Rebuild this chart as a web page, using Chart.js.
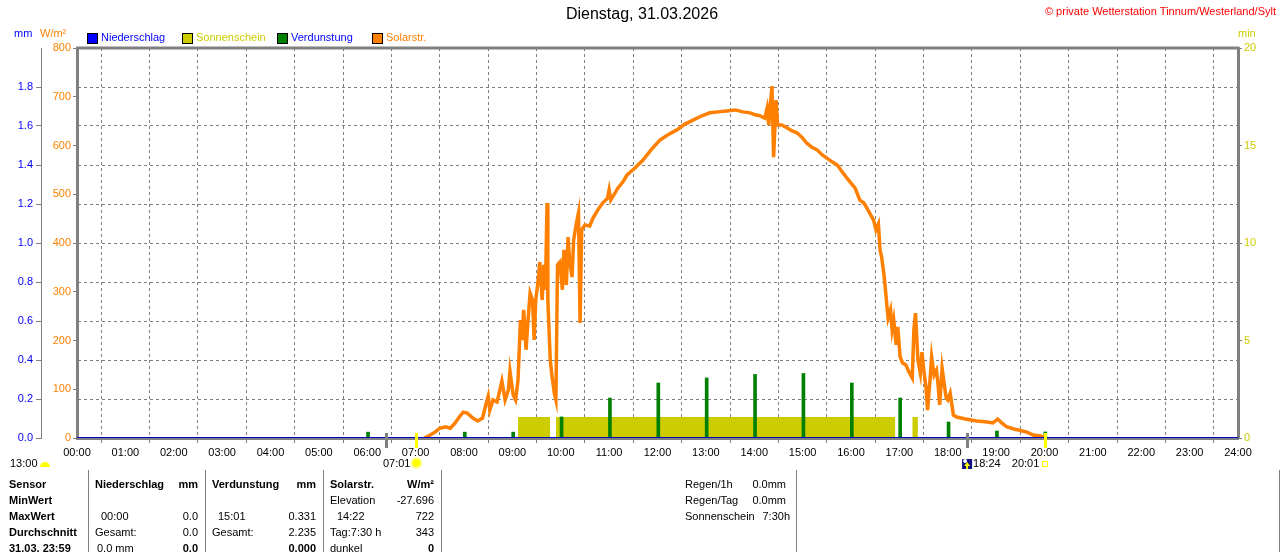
<!DOCTYPE html>
<html lang="de">

<head>
  <meta charset="utf-8">
  <title>Solarstrahlung - Wetterstation Tinnum/Westerland/Sylt</title>
  <style>
    body { margin: 0; background: #fff; }
    canvas { display: block; }
  </style>
</head>

<body>
  <canvas id="chart-solar" width="1280" height="552"></canvas>

  <script type="text/javascript" src="https://cdn.jsdelivr.net/npm/chart.js@4.4.1/dist/chart.umd.min.js"></script>
  <script>
    // ------------------------------------------------- Daten -------------------------------------------------
    var xTickLabels = ['00:00', '01:00', '02:00', '03:00', '04:00', '05:00', '06:00', '07:00', '08:00', '09:00', '10:00', '11:00', '12:00',
      '13:00', '14:00', '15:00', '16:00', '17:00', '18:00', '19:00', '20:00', '21:00', '22:00', '23:00', '24:00'];
    var mmTickLabels = ['0.0', '0.2', '0.4', '0.6', '0.8', '1.0', '1.2', '1.4', '1.6', '1.8', ''];
    var wTickLabels = ['0', '100', '200', '300', '400', '500', '600', '700', '800'];
    var minTickLabels = ['0', '5', '10', '15', '20'];

    // Solarstrahlung W/m²
    var solarTime = ['07:11', '07:18', '07:24', '07:30', '07:37', '07:43', '07:49', '07:55', '07:59', '08:04',
      '08:11', '08:17', '08:23', '08:27', '08:30', '08:32', '08:36', '08:41', '08:43', '08:47',
      '08:51', '08:55', '08:57', '09:01', '09:04', '09:07', '09:10', '09:12', '09:14', '09:17',
      '09:19', '09:22', '09:25', '09:27', '09:29', '09:32', '09:34', '09:37', '09:39', '09:41',
      '09:43', '09:44', '09:47', '09:49', '09:52', '09:54', '09:55', '09:56', '09:59', '10:02',
      '10:04', '10:07', '10:09', '10:11', '10:14', '10:16', '10:19', '10:22', '10:24', '10:26',
      '10:30', '10:36', '10:40', '10:46', '10:52', '10:58', '11:00', '11:02', '11:05', '11:11',
      '11:17', '11:22', '11:32', '11:42', '11:52', '12:03', '12:13', '12:24', '12:34', '12:44',
      '12:55', '13:05', '13:15', '13:26', '13:36', '13:46', '13:55', '14:01', '14:07', '14:13',
      '14:16', '14:18', '14:22', '14:24', '14:26', '14:27', '14:29', '14:34', '14:41', '14:47',
      '14:53', '14:59', '15:05', '15:11', '15:18', '15:24', '15:30', '15:37', '15:43', '15:49',
      '15:55', '16:00', '16:05', '16:11', '16:16', '16:21', '16:28', '16:31', '16:34', '16:36',
      '16:38', '16:41', '16:43', '16:46', '16:49', '16:51', '16:53', '16:56', '16:58', '17:01',
      '17:04', '17:08', '17:12', '17:16', '17:18', '17:20', '17:23', '17:26', '17:28', '17:31',
      '17:33', '17:35', '17:38', '17:40', '17:43', '17:46', '17:48', '17:50', '17:53', '17:55',
      '17:58', '18:00', '18:03', '18:07', '18:11', '18:22', '18:36', '18:49', '18:56', '19:02',
      '19:07', '19:13', '19:23', '19:29', '19:38', '19:46', '19:55', '19:59', '20:01'];
    var solarValue = [0, 6, 12, 20, 23, 20, 31, 45, 53, 51,
      41, 35, 41, 68, 86, 57, 78, 74, 88, 117,
      78, 98, 137, 88, 78, 119, 242, 201, 263, 181,
      232, 297, 283, 201, 283, 324, 361, 283, 355, 304,
      482, 283, 160, 129, 92, 78, 222, 355, 361, 304,
      386, 314, 412, 365, 330, 406, 437, 462, 236, 427,
      437, 435, 451, 468, 482, 492, 509, 488, 496, 513,
      525, 539, 554, 570, 591, 611, 622, 632, 644, 652,
      661, 667, 669, 671, 673, 669, 667, 663, 661, 656,
      677, 642, 722, 576, 652, 693, 642, 642, 636, 630,
      626, 617, 605, 597, 591, 581, 574, 566, 560, 546,
      533, 523, 513, 488, 482, 468, 447, 427, 439, 386,
      371, 334, 299, 246, 263, 222, 242, 191, 228, 166,
      154, 150, 135, 123, 222, 256, 160, 133, 176, 129,
      105, 57, 119, 166, 129, 139, 109, 68, 143, 119,
      82, 78, 92, 47, 43, 39, 35, 33, 31, 39,
      31, 23, 18, 16, 12, 6, 4, 2, 0];

    // Sonnenschein (min)
    var sunFrom = ['09:07', '09:54', '17:16'];
    var sunTo = ['09:47', '16:55', '17:23'];
    var sunMinutes = [1.08, 1.08, 1.08];

    // Verdunstung (mm)
    var evapTime = ['06:01', '08:01', '09:01', '10:01', '11:01', '12:01', '13:01', '14:01', '15:01', '16:01', '17:01', '18:01', '19:01', '20:01'];
    var evapValue = [0.03, 0.03, 0.03, 0.108, 0.205, 0.282, 0.308, 0.326, 0.331, 0.282, 0.205, 0.082, 0.036, 0.031];

    // Niederschlag (mm)
    var rainTime = ['00:00', '24:00'];
    var rainValue = [0, 0];

    // Sonne / Mond
    var sunEvents = ['07:01', '20:01'];
    var moonEvents = ['06:23', '18:24'];

    // Tabelle unten
    var tableRows = ['Sensor', 'MinWert', 'MaxWert', 'Durchschnitt', '31.03. 23:59'];

    // ------------------------------------------------- Hilfsfunktionen -------------------------------------------------
    function toH(s) {
      var p = s.split(':');
      return parseInt(p[0], 10) + parseInt(p[1], 10) / 60;
    }
    function font(size, bold) {
      return (bold ? 'bold ' : '') + size + 'px "Liberation Sans", Arial, sans-serif';
    }

    var solarData = solarTime.map(function (t, i) { return { x: toH(t), y: solarValue[i] }; });
    var evapData = evapTime.map(function (t, i) { return { x: toH(t), y: evapValue[i] }; });
    var rainData = rainTime.map(function (t, i) { return { x: toH(t), y: rainValue[i] }; });
    var sunData = [];
    sunFrom.forEach(function (t, i) {
      sunData.push({ x: toH(t), y: sunMinutes[i] });
      sunData.push({ x: toH(sunTo[i]), y: sunMinutes[i] });
      sunData.push({ x: toH(sunTo[i]), y: null });
    });

    var GREY = '#808080';
    Chart.defaults.font.family = '"Liberation Sans", Arial, sans-serif';
    Chart.defaults.font.size = 11;

    // ------------------------------------------------- Deko (Titel, Legende, Tabelle) -------------------------------------------------
    var deko = {
      id: 'deko',
      afterDraw: function (chart) {
        var ctx = chart.ctx, area = chart.chartArea, xs = chart.scales.x;
        ctx.save();

        // Rahmen oben
        ctx.strokeStyle = GREY;
        ctx.lineWidth = 3;
        ctx.beginPath();
        ctx.moveTo(area.left - 1, area.top);
        ctx.lineTo(area.right + 1, area.top);
        ctx.stroke();

        ctx.textBaseline = 'middle';
        ctx.textAlign = 'center';
        ctx.fillStyle = '#000';
        ctx.font = font(16);
        ctx.fillText('Dienstag, 31.03.2026', 642, 15);

        ctx.textAlign = 'right';
        ctx.fillStyle = '#ff0000';
        ctx.font = font(11);
        ctx.fillText('© private Wetterstation Tinnum/Westerland/Sylt', 1276, 12);

        // Einheiten
        ctx.textAlign = 'left';
        ctx.fillStyle = '#0000ff';
        ctx.fillText('mm', 14, 34);
        ctx.fillStyle = '#ff8000';
        ctx.fillText('W/m²', 40, 34);
        ctx.fillStyle = '#cccc00';
        ctx.fillText('min', 1238, 34);

        // Legende
        chart.data.datasets.forEach(function (ds, i) {
          var x0 = 87 + i * 95;
          ctx.fillStyle = ds.legendColor;
          ctx.fillRect(x0, 33, 10, 10);
          ctx.strokeStyle = '#000';
          ctx.lineWidth = 1;
          ctx.strokeRect(x0 + 0.5, 33.5, 10, 10);
          ctx.fillStyle = ds.legendTextColor;
          ctx.fillText(ds.label, x0 + 14, 38);
        });

        // Sonnenauf-/untergang, Mond
        moonEvents.forEach(function (t) {
          ctx.fillStyle = GREY;
          ctx.fillRect(Math.round(xs.getPixelForValue(toH(t))) - 1, 433, 3, 15);
        });
        sunEvents.forEach(function (t) {
          ctx.fillStyle = '#ffff00';
          ctx.fillRect(Math.round(xs.getPixelForValue(toH(t))) - 1, 433, 3, 15);
        });

        ctx.font = font(11);
        ctx.fillStyle = '#000';
        ctx.textAlign = 'left';
        ctx.fillText('13:00', 10, 464);
        ctx.fillStyle = '#ffff00';
        ctx.beginPath();
        ctx.arc(45, 467, 5, Math.PI, 0);
        ctx.fill();

        var sr = xs.getPixelForValue(toH(sunEvents[0]));
        ctx.fillStyle = '#ffffa0';
        ctx.beginPath(); ctx.arc(sr, 463, 6, 0, Math.PI * 2); ctx.fill();
        ctx.fillStyle = '#ffff00';
        ctx.beginPath(); ctx.arc(sr, 463, 4, 0, Math.PI * 2); ctx.fill();
        ctx.fillStyle = '#000';
        ctx.textAlign = 'right';
        ctx.fillText(sunEvents[0], sr - 6, 464);

        var mr = xs.getPixelForValue(toH(moonEvents[1]));
        ctx.fillStyle = '#101080';
        ctx.fillRect(mr - 5, 459, 10, 10);
        ctx.fillStyle = '#ffffff';
        ctx.beginPath(); ctx.arc(mr - 2, 461, 2, 0, Math.PI * 2); ctx.fill();
        ctx.fillStyle = '#ffff00';
        ctx.beginPath(); ctx.moveTo(mr, 462); ctx.lineTo(mr + 3, 466); ctx.lineTo(mr - 3, 466); ctx.fill();
        ctx.fillRect(mr - 1, 466, 2, 3);
        ctx.fillStyle = '#000';
        ctx.textAlign = 'left';
        ctx.fillText(moonEvents[1], mr + 6, 464);

        var ss = xs.getPixelForValue(toH(sunEvents[1]));
        ctx.textAlign = 'right';
        ctx.fillText(sunEvents[1], ss - 6, 464);
        ctx.strokeStyle = '#ffff00';
        ctx.lineWidth = 1;
        ctx.strokeRect(Math.round(ss) - 2.5, 461.5, 5, 5);

        // Tabelle
        ctx.fillStyle = GREY;
        [88, 205, 323, 441, 796, 1279].forEach(function (x) { ctx.fillRect(x, 470, 1, 82); });

        var rowY = [485, 501, 517, 533, 549];
        ctx.fillStyle = '#000';
        ctx.font = font(11, true);
        ctx.textAlign = 'left';
        tableRows.forEach(function (r, i) { ctx.fillText(r, 9, rowY[i]); });

        var cells = [
          ['Niederschlag', 95, 0, 'left', true], ['mm', 198, 0, 'right', true],
          ['00:00', 101, 2, 'left'], ['0.0', 198, 2, 'right'],
          ['Gesamt:', 95, 3, 'left'], ['0.0', 198, 3, 'right'],
          ['0.0 mm', 97, 4, 'left'], ['0.0', 198, 4, 'right', true],
          ['Verdunstung', 212, 0, 'left', true], ['mm', 316, 0, 'right', true],
          ['15:01', 218, 2, 'left'], ['0.331', 316, 2, 'right'],
          ['Gesamt:', 212, 3, 'left'], ['2.235', 316, 3, 'right'],
          ['0.000', 316, 4, 'right', true],
          ['Solarstr.', 330, 0, 'left', true], ['W/m²', 434, 0, 'right', true],
          ['Elevation', 330, 1, 'left'], ['-27.696', 434, 1, 'right'],
          ['14:22', 337, 2, 'left'], ['722', 434, 2, 'right'],
          ['Tag:7:30 h', 330, 3, 'left'], ['343', 434, 3, 'right'],
          ['dunkel', 330, 4, 'left'], ['0', 434, 4, 'right', true],
          ['Regen/1h', 685, 0, 'left'], ['0.0mm', 786, 0, 'right'],
          ['Regen/Tag', 685, 1, 'left'], ['0.0mm', 786, 1, 'right'],
          ['Sonnenschein', 685, 2, 'left'], ['7:30h', 790, 2, 'right']
        ];
        cells.forEach(function (c) {
          ctx.font = font(11, c[4]);
          ctx.textAlign = c[3];
          ctx.fillText(c[0], c[1], rowY[c[2]]);
        });

        ctx.restore();
      }
    };

    // ------------------------------------------------- Diagramm -------------------------------------------------
    new Chart(document.getElementById('chart-solar'), {
      type: 'line',
      data: {
        datasets: [{
          label: 'Niederschlag',
          data: rainData,
          yAxisID: 'yMm',
          borderColor: '#0000c0',
          borderWidth: 2,
          pointRadius: 0,
          order: 0,
          legendColor: '#0000ff',
          legendTextColor: '#0000ff'
        }, {
          label: 'Sonnenschein',
          data: sunData,
          yAxisID: 'yMin',
          borderWidth: 0,
          borderColor: 'rgba(0,0,0,0)',
          backgroundColor: '#cccc00',
          fill: 'origin',
          spanGaps: false,
          pointRadius: 0,
          order: 3,
          legendColor: '#cccc00',
          legendTextColor: '#cccc00'
        }, {
          type: 'bar',
          label: 'Verdunstung',
          data: evapData,
          yAxisID: 'yMm',
          backgroundColor: '#008000',
          barThickness: 3,
          order: 2,
          legendColor: '#008000',
          legendTextColor: '#0000ff'
        }, {
          label: 'Solarstr.',
          data: solarData,
          yAxisID: 'yW',
          borderColor: '#ff8000',
          borderWidth: 3.5,
          pointRadius: 0,
          tension: 0,
          order: 1,
          legendColor: '#ff8000',
          legendTextColor: '#ff8000'
        }]
      },
      options: {
        responsive: false,
        animation: false,
        layout: { padding: { top: 48, left: 0, right: 0, bottom: 0 } },
        plugins: {
          legend: { display: false },
          tooltip: { enabled: false }
        },
        scales: {
          x: {
            type: 'linear',
            min: 0,
            max: 24,
            offset: false,
            grid: { color: GREY, tickColor: GREY, tickLength: 5 },
            border: { color: GREY, width: 3, dash: [3, 3] },
            ticks: {
              stepSize: 1,
              autoSkip: false,
              maxRotation: 0,
              maxTicksLimit: 30,
              padding: 3,
              color: '#000',
              callback: function (v) { return xTickLabels[v]; }
            },
            afterFit: function (s) { s.height = 114; }
          },
          yMm: {
            position: 'left',
            weight: 1,
            min: 0,
            max: 2,
            grid: {
              color: GREY,
              tickLength: 5,
              tickColor: function (c) { return c.index === 10 ? 'rgba(0,0,0,0)' : GREY; }
            },
            border: { color: GREY, width: 1, dash: [3, 3] },
            ticks: {
              stepSize: 0.2,
              padding: 3,
              color: '#0000ff',
              callback: function (v, i) { return mmTickLabels[i]; }
            },
            afterFit: function (s) { s.width = 41; }
          },
          yW: {
            position: 'left',
            weight: 0,
            min: 0,
            max: 800,
            grid: { drawOnChartArea: false, tickColor: GREY, tickLength: 4 },
            border: { color: GREY, width: 3 },
            ticks: {
              stepSize: 100,
              padding: 2,
              color: '#ff8000',
              callback: function (v, i) { return wTickLabels[i]; }
            },
            afterFit: function (s) { s.width = 36; }
          },
          yMin: {
            position: 'right',
            min: 0,
            max: 20,
            grid: { drawOnChartArea: false, tickColor: GREY, tickLength: 4 },
            border: { color: GREY, width: 3 },
            ticks: {
              stepSize: 5,
              padding: 2,
              color: '#cccc00',
              callback: function (v, i) { return minTickLabels[i]; }
            },
            afterFit: function (s) { s.width = 42; }
          }
        }
      },
      plugins: [deko]
    });
  </script>
</body>

</html>
